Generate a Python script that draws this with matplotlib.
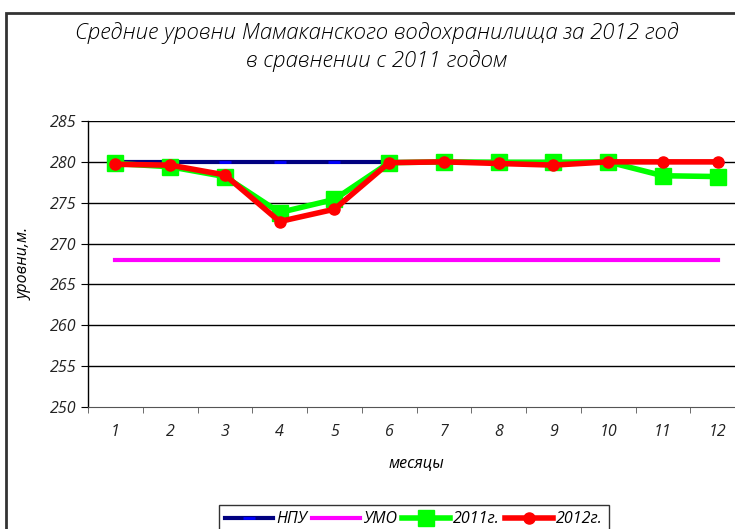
import matplotlib
matplotlib.use("Agg")
import matplotlib.pyplot as plt
from matplotlib.patches import Rectangle

months = [1, 2, 3, 4, 5, 6, 7, 8, 9, 10, 11, 12]
npu = [280] * 12
umo = [268] * 12
y2011 = [279.8, 279.4, 278.2, 273.8, 275.4, 279.9, 280.0, 279.95, 279.95, 280.0, 278.3, 278.2]
y2012 = [279.7, 279.6, 278.4, 272.7, 274.2, 279.9, 280.0, 279.8, 279.6, 280.0, 280.0, 280.0]
yticks = [250, 255, 260, 265, 270, 275, 280, 285]

title = "Средние уровни Мамаканского водохранилища за 2012 год\nв сравнении с 2011 годом"
font = ["Open Sans", "DejaVu Sans"]

fig = plt.figure(figsize=(7.35, 5.29), dpi=100)
fig.patches.append(Rectangle((6 / 735, -0.1), 1.2, 1 - 13 / 529 + 0.1, transform=fig.transFigure,
                             fill=False, edgecolor="#333333", linewidth=2))

ax = fig.add_axes([88 / 735, 1 - 407 / 529, 657 / 735, (407 - 121) / 529])
ax.set_xlim(0.5, 12.5)
ax.set_ylim(250, 285)
ax.set_yticks(yticks)
ax.set_xticks(months)
ax.set_xticks([m + 0.5 for m in [0] + months], minor=True)
for y in yticks[1:]:
    ax.axhline(y, color="black", linewidth=1, zorder=1)
for s in ["top", "right"]:
    ax.spines[s].set_visible(False)
ax.spines["left"].set_linewidth(1)
ax.spines["bottom"].set_color("#555555")
ax.tick_params(axis="x", which="major", length=0, pad=12)
ax.tick_params(axis="x", which="minor", length=4, direction="out", color="#555555")
ax.tick_params(axis="y", length=5, direction="out")
for lab in ax.get_xticklabels() + ax.get_yticklabels():
    lab.set_fontfamily(font)
    lab.set_fontstyle("italic")
    lab.set_fontsize(11.5)
    lab.set_color("#222222")

ax.plot(months, npu, color="#000080", linewidth=3, marker="_", markersize=8,
        markeredgecolor="#0000ff", markeredgewidth=2, label="НПУ", zorder=3)
ax.plot(months, umo, color="#ff00ff", linewidth=3, label="УМО", zorder=3)
ax.plot(months, y2011, color="#00ff00", linewidth=4, marker="s", markersize=12,
        label="2011г.", zorder=4)
ax.plot(months, y2012, color="#ff0000", linewidth=4, marker="o", markersize=8,
        label="2012г.", zorder=5)

ax.set_ylabel("уровни,м.", fontfamily=font, fontstyle="italic", fontsize=11.5, labelpad=12)
ax.set_xlabel("месяцы", fontfamily=font, fontstyle="italic", fontsize=11.5, labelpad=12)
fig.text(377 / 735, 1 - 47 / 529, title, ha="center", va="center", fontfamily=font,
         fontstyle="italic", fontweight=300, fontsize=16, linespacing=1.35)

leg = fig.legend(loc="upper center", bbox_to_anchor=(414 / 735, 1 - 497 / 529), ncol=4,
                 frameon=True, fancybox=False, edgecolor="black", handlelength=3.0,
                 handletextpad=0.2, columnspacing=0.3, borderpad=0.4,
                 prop={"family": font, "style": "italic", "size": 11.5})
leg.get_frame().set_linewidth(1)

fig.savefig("out.png", dpi=100)
